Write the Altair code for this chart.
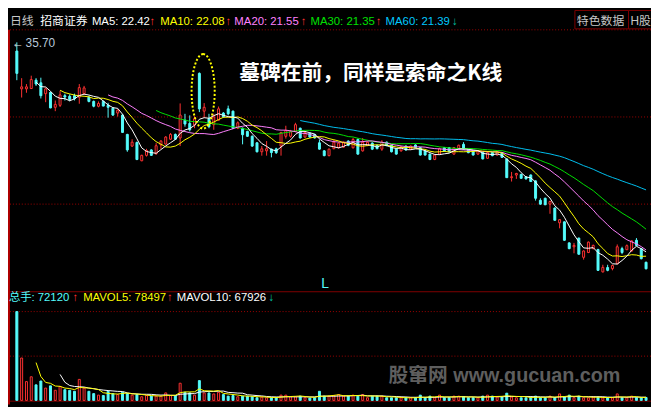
import altair as alt
import pandas as pd

# ---------------- data ----------------
opens = [35.14, 32.70, 32.70, 32.72, 33.26, 33.09, 32.39, 32.47, 31.51, 31.64,
         32.26, 32.22, 32.26, 32.16, 32.39, 32.16, 31.89, 31.58, 31.89, 31.64,
         31.45, 31.14, 31.01, 29.76, 29.01, 29.24, 28.06, 28.41, 28.76, 28.51,
         29.08, 29.14, 29.45, 29.76, 29.53, 30.68, 30.47, 30.37, 33.70, 31.26,
         30.78, 30.39, 30.68, 31.14, 31.41, 31.26, 30.16, 30.16, 29.95, 29.64,
         29.22, 28.64, 28.70, 28.81, 28.83, 29.01, 29.64, 29.64, 29.95, 30.16,
         29.59, 29.83, 29.76, 29.22, 28.70, 28.39, 28.84, 28.90, 28.94, 29.33,
         28.90, 29.43, 28.70, 29.06, 29.20, 29.06, 28.81, 29.26, 29.06, 28.81,
         28.70, 29.01, 28.81, 29.08, 28.91, 28.70, 28.49, 28.14, 28.49, 28.91,
         28.91, 28.49, 28.81, 29.12, 28.76, 28.64, 28.49, 28.59, 28.22, 28.59,
         28.43, 28.58, 28.18, 26.97, 27.14, 27.18, 27.03, 27.14, 26.76, 25.51,
         25.64, 25.26, 25.01, 24.06, 24.12, 22.76, 22.51, 23.07, 21.83, 22.14,
         22.39, 22.34, 20.89, 21.17, 21.10, 21.41, 22.39, 22.32, 22.24, 22.93,
         22.39, 21.51]
closes = [33.70, 32.83, 32.83, 33.30, 33.01, 32.26, 32.70, 31.47, 31.70, 32.31,
          32.17, 32.01, 32.07, 32.78, 32.76, 31.89, 31.58, 31.76, 31.59, 31.51,
          31.01, 31.33, 29.89, 28.76, 29.26, 28.14, 28.41, 28.72, 28.41, 29.03,
          29.33, 29.59, 29.76, 29.45, 31.01, 30.43, 30.06, 30.78, 31.41, 31.51,
          30.26, 30.89, 31.41, 30.89, 31.09, 30.16, 30.51, 29.74, 29.64, 29.01,
          28.64, 28.83, 28.84, 28.59, 28.58, 29.89, 30.01, 29.95, 30.39, 29.53,
          29.89, 29.59, 29.53, 28.81, 28.39, 28.81, 29.26, 29.20, 29.26, 29.06,
          29.43, 28.49, 29.26, 29.26, 28.81, 28.84, 29.26, 29.03, 28.64, 28.49,
          28.97, 28.76, 29.01, 28.91, 28.43, 28.43, 28.14, 28.43, 28.84, 28.70,
          28.64, 28.91, 29.06, 28.81, 28.58, 28.43, 28.70, 28.18, 28.58, 28.39,
          28.64, 28.28, 26.97, 27.03, 27.24, 26.93, 26.89, 26.72, 25.64, 25.26,
          25.22, 25.43, 24.22, 24.26, 22.93, 22.39, 22.60, 22.03, 22.24, 22.81,
          22.60, 20.99, 21.18, 20.99, 21.30, 22.51, 22.14, 22.58, 22.89, 22.59,
          21.74, 21.09]
highs = [35.70, 33.39, 33.01, 33.55, 33.39, 33.42, 32.78, 32.51, 31.95, 32.58,
         32.39, 32.35, 32.39, 33.01, 32.89, 32.26, 31.95, 31.89, 31.95, 31.80,
         31.50, 31.39, 31.05, 29.80, 29.45, 29.30, 28.45, 28.83, 28.80, 29.20,
         29.39, 29.65, 29.85, 29.82, 31.76, 31.09, 30.99, 30.93, 33.76, 31.78,
         31.09, 31.09, 31.56, 31.20, 31.62, 31.30, 30.60, 30.20, 30.00, 29.70,
         29.25, 29.01, 29.33, 28.85, 28.90, 29.92, 30.32, 30.05, 30.51, 30.20,
         29.95, 29.90, 29.80, 29.43, 28.75, 28.85, 29.43, 29.25, 29.30, 29.38,
         29.53, 29.50, 29.53, 29.32, 29.25, 29.10, 29.39, 29.30, 29.10, 28.85,
         29.00, 29.05, 29.05, 29.12, 28.95, 28.75, 28.52, 28.47, 28.90, 28.95,
         28.95, 28.95, 29.10, 29.26, 28.80, 28.68, 28.73, 28.62, 28.68, 28.62,
         28.68, 28.60, 28.20, 27.34, 27.28, 27.22, 27.05, 27.18, 26.80, 25.64,
         25.68, 25.48, 25.05, 24.30, 24.15, 22.80, 22.76, 23.10, 22.28, 22.85,
         22.65, 22.37, 21.35, 21.35, 21.35, 22.66, 22.51, 22.66, 22.93, 23.07,
         22.42, 21.55]
lows = [33.26, 32.14, 32.45, 32.70, 32.89, 32.08, 31.84, 31.45, 31.26, 31.53,
        31.95, 31.90, 31.95, 31.74, 32.33, 31.83, 31.51, 31.51, 31.58, 30.84,
        30.95, 30.91, 29.85, 28.64, 28.95, 28.10, 28.03, 28.33, 28.38, 28.45,
        28.83, 29.10, 29.40, 29.40, 29.01, 30.26, 29.95, 30.16, 31.20, 30.84,
        30.16, 30.06, 30.65, 30.85, 30.99, 30.10, 30.10, 29.12, 29.60, 28.95,
        28.60, 28.39, 28.39, 28.28, 28.50, 28.39, 29.49, 29.55, 29.90, 29.50,
        29.55, 29.55, 29.50, 28.78, 28.35, 28.35, 28.80, 28.85, 28.90, 29.00,
        28.85, 28.45, 28.65, 29.00, 28.75, 28.80, 28.70, 29.00, 28.60, 28.45,
        28.65, 28.70, 28.75, 28.88, 28.40, 28.40, 28.10, 28.10, 28.45, 28.65,
        28.60, 28.45, 28.78, 28.78, 28.55, 28.40, 28.45, 28.15, 28.18, 28.35,
        28.40, 28.25, 26.95, 26.72, 26.89, 26.90, 26.85, 26.70, 25.49, 25.22,
        25.20, 24.64, 24.20, 23.70, 22.90, 22.35, 22.09, 22.00, 21.68, 22.10,
        22.35, 20.95, 20.85, 20.93, 20.99, 21.38, 22.03, 22.30, 22.20, 22.55,
        21.70, 21.05]
volumes = [2200000, 1050000, 465000, 585000, 385000, 480000, 305000, 360000, 250000, 345000,
           265000, 250000, 225000, 520000, 305000, 225000, 168000, 130000, 120000, 225000,
           168000, 144000, 200000, 168000, 130000, 144000, 90000, 120000, 105000, 105000,
           105000, 185000, 120000, 120000, 425000, 200000, 185000, 130000, 490000, 185000,
           185000, 160000, 200000, 144000, 105000, 120000, 90000, 105000, 105000, 90000,
           65000, 80000, 65000, 65000, 65000, 130000, 130000, 90000, 90000, 105000,
           65000, 58000, 65000, 225000, 105000, 105000, 120000, 144000, 105000, 105000,
           130000, 105000, 144000, 65000, 105000, 105000, 105000, 65000, 65000, 65000,
           65000, 65000, 65000, 65000, 130000, 65000, 105000, 65000, 130000, 65000,
           65000, 105000, 105000, 90000, 65000, 65000, 65000, 105000, 130000, 105000,
           82000, 82000, 178000, 82000, 65000, 65000, 65000, 82000, 105000, 65000,
           65000, 105000, 65000, 160000, 82000, 130000, 65000, 105000, 65000, 65000,
           82000, 82000, 65000, 65000, 65000, 160000, 65000, 65000, 105000, 65000,
           65000, 72120]

price_min, price_max = 19.64, 36.51
vol_max = 2200000

# ---------------- styling ----------------
W, H = 651, 399
SX, SY = W / 659, H / 407


def X(x):
    return x * SX


def Y(y):
    return y * SY


RED = "#FF3232"
CYAN = "#54FCFC"
GRID = "#A00000"
FRAME = "#800000"
LATIN = "Liberation Sans, Noto Sans CJK SC"
CJK = "Noto Sans CJK SC"

n = len(closes)
df = pd.DataFrame({
    "i": list(range(n)),
    "open": opens, "close": closes, "high": highs, "low": lows, "vol": volumes,
})
df["dir"] = ["up" if c >= o else "down" for o, c in zip(opens, closes)]
df["top"] = [max(o, c) for o, c in zip(opens, closes)]
df["bot"] = [min(o, c) for o, c in zip(opens, closes)]

xenc = alt.X("i:Q", scale=alt.Scale(domain=[0, n - 1], range=[X(4), X(659)], nice=False, zero=False), axis=None)
pscale = alt.Scale(domain=[price_min, price_max], range=[Y(290), Y(20)], nice=False, zero=False)
vscale = alt.Scale(domain=[0, vol_max], range=[Y(402.7), Y(311)], nice=False)
stroke_enc = alt.Stroke("dir:N", scale=alt.Scale(domain=["up", "down"], range=[RED, CYAN]), legend=None)
fill_enc = alt.Fill("dir:N", scale=alt.Scale(domain=["up", "down"], range=["#000000", CYAN]), legend=None)

base = alt.Chart(df)
ONE = pd.DataFrame({"k": [0]})


def hline(y, dashed=True, color=GRID, x0=2, x1=659):
    kw = dict(color=color, strokeWidth=1)
    if dashed:
        kw["strokeDash"] = [1, 2]
    return alt.Chart(ONE).mark_rule(**kw).encode(
        x=alt.value(X(x0)), x2=alt.value(X(x1)), y=alt.value(Y(y)))


def label(text, x, y, color, size=12, font=LATIN, weight="normal", baseline="alphabetic"):
    return alt.Chart(ONE).mark_text(
        text=text, color=color, fontSize=size, font=font, fontWeight=weight,
        align="left", baseline=baseline).encode(x=alt.value(X(x)), y=alt.value(Y(y)))


def box(x0, x1, y0, y1):
    return alt.Chart(ONE).mark_rect(fill="#000000", stroke=FRAME, strokeWidth=1).encode(
        x=alt.value(X(x0)), x2=alt.value(X(x1)), y=alt.value(Y(y0)), y2=alt.value(Y(y1)))


layers = []
# frame and grid
layers += [hline(20), hline(110), hline(200), hline(311), hline(357),
           hline(290.5, dashed=False, color=FRAME, x0=0),
           hline(403.5, dashed=False, color=FRAME, x0=0)]
layers.append(alt.Chart(ONE).mark_rule(color="#B00000", strokeWidth=2).encode(
    x=alt.value(X(1)), y=alt.value(Y(20)), y2=alt.value(H)))

# candles
wick = base.mark_rule(strokeWidth=1).encode(
    x=xenc, y=alt.Y("low:Q", scale=pscale, axis=None), y2="high:Q", stroke=stroke_enc)
body = base.mark_bar(size=2, strokeWidth=1).encode(
    x=xenc, y=alt.Y("bot:Q", scale=pscale, axis=None), y2="top:Q",
    fill=fill_enc, stroke=stroke_enc)
layers += [wick, body]

# moving averages of close
for win, col in [(60, "#00BFEF"), (30, "#00E000"), (20, "#FF80FF"), (10, "#FFFF00"), (5, "#FFFFFF")]:
    layers.append(
        base.transform_window(ma="mean(close)", frame=[-(win - 1), 0], sort=[alt.SortField("i")])
        .transform_filter(f"datum.i >= {win - 1}")
        .mark_line(color=col, strokeWidth=1, interpolate="linear")
        .encode(x=xenc, y=alt.Y("ma:Q", scale=pscale, axis=None))
    )

# volume
vbar = base.mark_bar(size=2, strokeWidth=1).encode(
    x=xenc, y=alt.Y("vol:Q", scale=vscale, axis=None), fill=fill_enc, stroke=stroke_enc)
layers.append(vbar)
for win, col in [(10, "#FFFFFF"), (5, "#FFFF00")]:
    layers.append(
        base.transform_window(mv="mean(vol)", frame=[-(win - 1), 0], sort=[alt.SortField("i")])
        .transform_filter(f"datum.i >= {win - 1}")
        .mark_line(color=col, strokeWidth=1)
        .encode(x=xenc, y=alt.Y("mv:Q", scale=vscale, axis=None))
    )

# header
layers += [
    label("日线", 2, 15, "#C8C8C8", font=CJK),
    label("招商证券", 33, 15, "#FFFFFF", font=CJK),
    label("MA5: 22.42", 86, 15, "#FFFFFF", size=11.5),
    label("↑", 145, 15, RED, size=11.5),
    label("MA10: 22.08", 156, 15, "#FFFF00", size=11.5),
    label("↑", 223, 15, RED, size=11.5),
    label("MA20: 21.55", 232, 15, "#FF80FF", size=11.5),
    label("↑", 300, 15, RED, size=11.5),
    label("MA30: 21.35", 310, 15, "#00E000", size=11.5),
    label("↑", 377, 15, RED, size=11.5),
    label("MA60: 21.39", 387, 15, "#00C8FF", size=11.5),
    label("↓", 455, 15, "#00C0A0", size=11.5),
    box(581, 636, 0, 19), box(636, 662, 0, 19),
    label("特色数据", 583, 15, "#C8C8C8", font=CJK),
    label("H股", 638, 15, "#C8C8C8"),
    label("←", 4, 38, "#E0E0E0", size=12),
    label("35.70", 18, 38, "#B8C8D8", size=12),
    label("L", 321, 287, CYAN, size=14),
    # volume title
    label("总手", 1, 300, CYAN, font=CJK, size=11.5),
    label(": 72120", 24, 300, CYAN, size=11.5),
    label("↑", 66, 300, RED, size=11.5),
    label("MAVOL5: 78497", 77, 300, "#FFFF00", size=11.5),
    label("↑", 163, 300, RED, size=11.5),
    label("MAVOL10: 67926", 173, 300, "#FFFFFF", size=11.5),
    label("↓", 267, 300, "#00C0A0", size=11.5),
    # annotation and watermark
    label("墓碑在前，同样是索命之K线", 237, 66, "#FFFFFF", size=21, font=CJK, weight="bold", baseline="middle"),
    label("股窜网 www.gucuan.com", 390, 378, "#5E5E5E", size=20, weight="bold", baseline="middle"),
]

# dotted ellipse around the tombstone candle
ellipse_path = ("M0,-1 C0.171,-1 0.31,-0.552 0.31,0 C0.31,0.552 0.171,1 0,1 "
                "C-0.171,1 -0.31,0.552 -0.31,0 C-0.31,-0.552 -0.171,-1 0,-1 Z")
layers.append(alt.Chart(ONE).mark_point(
    shape=ellipse_path, size=5700, filled=False, stroke="#FFFF00", strokeWidth=2,
    strokeDash=[2, 2], opacity=1).encode(x=alt.value(X(200)), y=alt.value(Y(83.5))))

chart = alt.layer(*layers).resolve_scale(y="independent").properties(
    width=W, height=H, background="#000000", padding=0,
    autosize=alt.AutoSizeParams(type="none"),
).configure_view(strokeWidth=0)

chart.save("out.html", embed_options={"renderer": "svg", "actions": False})
